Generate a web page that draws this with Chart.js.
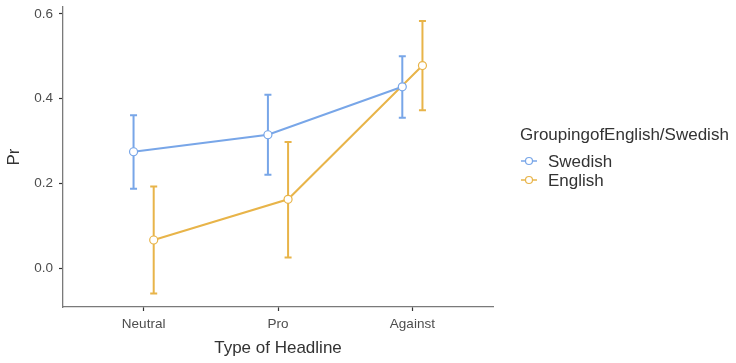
<!DOCTYPE html>
<html>
<head>
<meta charset="utf-8">
<script src="https://cdn.jsdelivr.net/npm/chart.js@4/dist/chart.umd.min.js"></script>
<style>
  html, body { margin: 0; padding: 0; background: #ffffff; }
  #wrap { width: 736px; height: 363px; }
</style>
</head>
<body>
<div id="wrap"><canvas id="c" width="736" height="363"></canvas></div>
<script>
// Headline categories and estimated probabilities with confidence limits
const headlineTypes = ['Neutral', 'Pro', 'Against'];
const groupNames = ['Swedish', 'English'];
const groupTitle = 'GroupingofEnglish/Swedish';

const swedishPr   = [0.275, 0.315, 0.428];
const swedishLow  = [0.188, 0.221, 0.355];
const swedishHigh = [0.361, 0.409, 0.500];

const englishPr   = [0.067, 0.163, 0.478];
const englishLow  = [-0.059, 0.026, 0.373];
const englishHigh = [0.193, 0.298, 0.583];

const yTicks = [0, 0.2, 0.4, 0.6];

// Styling
const colors = ['#78a6e8', '#e8b449'];
const dodge = [-0.075, 0.075];
const fontFamily = '"Liberation Sans", Arial, Helvetica, sans-serif';

function toPoints(values, groupIndex) {
  return values.map((v, i) => ({ x: i + 1 + dodge[groupIndex], y: v }));
}

const lows = [swedishLow, englishLow];
const highs = [swedishHigh, englishHigh];

// Vertical error bars with caps, drawn beneath lines and points
const errorBars = {
  id: 'errorBars',
  beforeDatasetsDraw(chart) {
    const ctx = chart.ctx;
    const xs = chart.scales.x, ys = chart.scales.y;
    ctx.save();
    chart.data.datasets.forEach((ds, g) => {
      ctx.strokeStyle = colors[g];
      ctx.lineWidth = 2;
      ds.data.forEach((p, i) => {
        const px = xs.getPixelForValue(p.x);
        const top = ys.getPixelForValue(highs[g][i]);
        const bot = ys.getPixelForValue(lows[g][i]);
        const cap = 3.5;
        ctx.beginPath();
        ctx.moveTo(px, top); ctx.lineTo(px, bot);
        ctx.moveTo(px - cap, top); ctx.lineTo(px + cap, top);
        ctx.moveTo(px - cap, bot); ctx.lineTo(px + cap, bot);
        ctx.stroke();
      });
    });
    ctx.restore();
  }
};

// Legend on the right: title plus line-and-point keys
const sideLegend = {
  id: 'sideLegend',
  afterDraw(chart) {
    const ctx = chart.ctx;
    ctx.save();
    ctx.textBaseline = 'middle';
    ctx.textAlign = 'left';
    ctx.fillStyle = '#333333';
    ctx.font = '17px ' + fontFamily;
    ctx.fillText(groupTitle, 520, 135);
    const rows = [161, 180];
    groupNames.forEach((name, g) => {
      const y = rows[g];
      ctx.strokeStyle = colors[g];
      ctx.lineWidth = 1.5;
      ctx.beginPath();
      ctx.moveTo(521, y); ctx.lineTo(537, y);
      ctx.stroke();
      ctx.beginPath();
      ctx.arc(529, y, 3.5, 0, Math.PI * 2);
      ctx.fillStyle = '#ffffff';
      ctx.fill();
      ctx.lineWidth = 1.2;
      ctx.stroke();
      ctx.fillStyle = '#333333';
      ctx.fillText(name, 548, y + 1);
    });
    ctx.restore();
  }
};

new Chart(document.getElementById('c'), {
  type: 'scatter',
  data: {
    datasets: [
      {
        label: groupNames[0],
        data: toPoints(swedishPr, 0),
        showLine: true,
        borderColor: colors[0],
        backgroundColor: '#ffffff',
        borderWidth: 2,
        pointRadius: 4,
        pointBorderWidth: 1.2,
        pointBackgroundColor: '#ffffff',
        pointBorderColor: colors[0],
        order: 1
      },
      {
        label: groupNames[1],
        data: toPoints(englishPr, 1),
        showLine: true,
        borderColor: colors[1],
        backgroundColor: '#ffffff',
        borderWidth: 2,
        pointRadius: 4,
        pointBorderWidth: 1.2,
        pointBackgroundColor: '#ffffff',
        pointBorderColor: colors[1],
        order: 2
      }
    ]
  },
  options: {
    responsive: false,
    animation: false,
    devicePixelRatio: 1,
    layout: { padding: { top: 7, right: 243, left: 0, bottom: 0 } },
    plugins: {
      legend: { display: false },
      tooltip: { enabled: false }
    },
    scales: {
      x: {
        type: 'linear',
        min: 0.4,
        max: 3.6,
        afterBuildTicks(scale) {
          scale.ticks = headlineTypes.map((_, i) => ({ value: i + 1 }));
        },
        afterFit(scale) {
          scale.height = 56;
          scale.paddingLeft = 0;
          scale.paddingRight = 0;
        },
        ticks: {
          callback: (v) => headlineTypes[Math.round(v) - 1],
          color: '#4d4d4d',
          font: { family: fontFamily, size: 13.5 },
          padding: 5,
          maxRotation: 0
        },
        grid: {
          display: true,
          drawOnChartArea: false,
          drawTicks: true,
          tickLength: 4,
          tickColor: '#333333',
          tickWidth: 1.2
        },
        border: { display: true, color: '#7a7a7a', width: 1.3 },
        title: {
          display: true,
          text: 'Type of Headline',
          color: '#333333',
          font: { family: fontFamily, size: 17 },
          padding: { top: 0, bottom: 4 }
        }
      },
      y: {
        type: 'linear',
        min: -0.0908,
        max: 0.616,
        afterBuildTicks(scale) {
          scale.ticks = yTicks.map(v => ({ value: v }));
        },
        afterFit(scale) {
          scale.width = 63;
          scale.paddingTop = 0;
          scale.paddingBottom = 0;
        },
        ticks: {
          callback: (v) => v.toFixed(1),
          color: '#4d4d4d',
          font: { family: fontFamily, size: 13.5 },
          padding: 6
        },
        grid: {
          display: true,
          drawOnChartArea: false,
          drawTicks: true,
          tickLength: 4,
          tickColor: '#333333',
          tickWidth: 1.2
        },
        border: { display: true, color: '#7a7a7a', width: 1.3 },
        title: {
          display: true,
          text: 'Pr',
          color: '#333333',
          font: { family: fontFamily, size: 17 },
          padding: { top: 4, bottom: 0 }
        }
      }
    }
  },
  plugins: [errorBars, sideLegend]
});
</script>
</body>
</html>
